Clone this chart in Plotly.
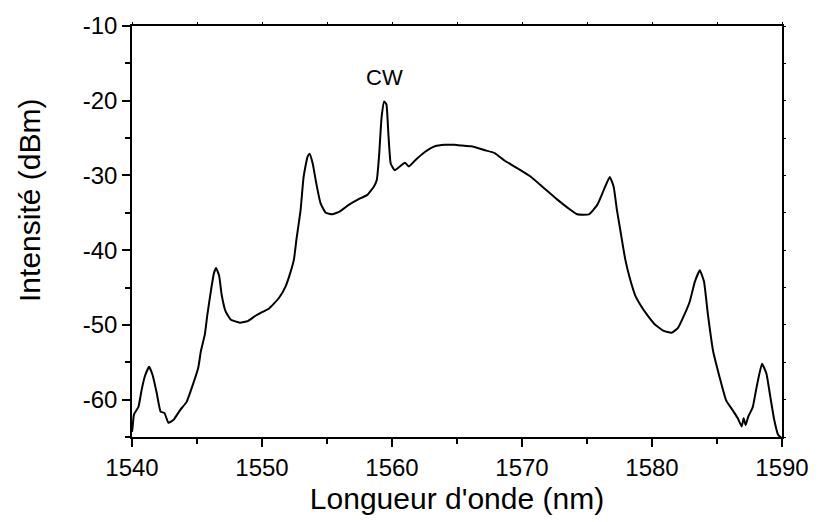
import plotly.graph_objects as go

# Optical spectrum (wavelength in nm, intensity in dBm)
wavelength = [
    1540.0, 1540.05, 1540.15, 1540.5, 1540.74, 1541.0, 1541.32, 1541.6, 1541.9,
    1542.2, 1542.5, 1542.8, 1543.2, 1543.7, 1544.2, 1544.7, 1545.1, 1545.3,
    1545.6, 1545.8, 1546.1, 1546.3, 1546.47, 1546.7, 1546.9, 1547.2, 1547.6,
    1548.3, 1548.9, 1549.4, 1550.0, 1550.55, 1551.3, 1551.8, 1552.2, 1552.46,
    1552.64, 1552.97, 1553.2, 1553.5, 1553.66, 1553.9, 1554.17, 1554.5, 1554.9,
    1555.4, 1556.0, 1556.7, 1557.4, 1558.1, 1558.6, 1558.83, 1559.0, 1559.2,
    1559.4, 1559.57, 1559.72, 1559.9, 1560.2, 1560.6, 1561.0, 1561.3, 1561.77,
    1562.5, 1563.3, 1564.06, 1564.8, 1565.4, 1566.1, 1567.1, 1567.9, 1568.65,
    1569.7, 1570.7, 1571.7, 1572.7, 1573.5, 1574.25, 1575.15, 1575.8, 1576.3,
    1576.75, 1577.05, 1577.3, 1577.56, 1577.94, 1578.3, 1578.7, 1579.1, 1579.6,
    1580.2, 1580.9, 1581.5, 1582.0, 1582.5, 1582.9, 1583.3, 1583.68, 1584.0,
    1584.3, 1584.7, 1585.2, 1585.7, 1586.2, 1586.6, 1586.9, 1587.05, 1587.2,
    1587.4, 1587.75, 1588.05, 1588.46, 1588.8, 1589.1, 1589.4, 1589.7, 1589.95,
]
intensity = [
    -64.3, -63.6, -62.0, -60.95, -58.7, -56.8, -55.6, -56.8, -59.1,
    -61.6, -61.8, -63.1, -62.7, -61.4, -60.3, -57.9, -55.7, -53.5,
    -51.3, -48.6, -45.1, -43.1, -42.4, -43.4, -46.0, -48.2, -49.3,
    -49.7, -49.5, -48.9, -48.3, -47.8, -46.4, -44.9, -42.9, -41.2,
    -38.7, -34.6, -30.2, -27.5, -27.1, -28.4, -31.0, -33.7, -35.0,
    -35.2, -34.8, -33.9, -33.2, -32.6, -31.5, -30.6, -27.5, -22.2,
    -20.1, -20.5, -24.4, -28.4, -29.3, -28.8, -28.3, -28.8, -28.0,
    -26.9, -26.1, -25.9, -25.9, -26.0, -26.1, -26.6, -27.0, -28.0,
    -29.1, -30.2, -31.7, -33.2, -34.3, -35.2, -35.2, -33.9, -31.9,
    -30.2, -31.5, -34.6, -37.3, -41.2, -43.8, -46.0, -47.3, -48.6,
    -49.9, -50.8, -51.05, -50.4, -48.6, -46.9, -44.2, -42.7, -44.2,
    -48.6, -53.5, -57.0, -60.1, -61.4, -62.5, -63.6, -62.5, -63.4,
    -62.3, -61.0, -58.3, -55.2, -56.5, -59.6, -62.7, -64.7, -65.1,
]

x_ticks = [1540, 1550, 1560, 1570, 1580, 1590]
y_ticks = [-10, -20, -30, -40, -50, -60]
y_tick_text = ["-10", "-20", "-30", "-40", "-50", "-60"]
x_range = [1540, 1590]
y_range = [-65, -10]

cw_label = "CW"
cw_pos = (1559.4, -16.9)

font_family = "Liberation Sans, Arial, sans-serif"

fig = go.Figure()
fig.add_trace(go.Scatter(
    x=wavelength, y=intensity, mode="lines",
    line=dict(color="black", width=2, shape="spline", smoothing=0.4),
    showlegend=False,
))
# empty trace that anchors the small frame ticks on the top and right sides
fig.add_trace(go.Scatter(
    x=[None], y=[None], xaxis="x2", yaxis="y2",
    mode="lines", showlegend=False, hoverinfo="skip",
))

fig.add_annotation(
    x=cw_pos[0], y=cw_pos[1], text=cw_label, showarrow=False,
    font=dict(family=font_family, size=22, color="black"),
)

# vertical axis title, placed as free text to the left of the tick labels
fig.add_annotation(
    xref="paper", yref="paper", x=-0.158, y=0.575,
    text="Intensité (dBm)", textangle=-90, showarrow=False,
    xanchor="center", yanchor="middle",
    font=dict(family=font_family, size=30, color="black"),
)

axis_common = dict(
    showgrid=False, zeroline=False,
    showline=True, linecolor="black", linewidth=1.5, mirror=True,
    ticks="outside", ticklen=8, tickwidth=1.5, tickcolor="black",
    tickfont=dict(family=font_family, size=24, color="black"),
)

frame_ticks = dict(
    showgrid=False, zeroline=False, showline=False,
    ticks="outside", ticklen=3, tickwidth=1.2, tickcolor="black",
    showticklabels=False, dtick=5,
)

fig.update_layout(
    width=821, height=522,
    margin=dict(l=132, r=35, t=20, b=85),
    paper_bgcolor="white", plot_bgcolor="white",
    xaxis=dict(
        range=x_range, tickvals=x_ticks,
        minor=dict(ticks="outside", ticklen=5, tickwidth=1.5,
                   tickcolor="black", dtick=5, tick0=1540),
        title=dict(text="Longueur d'onde (nm)", standoff=8,
                   font=dict(family=font_family, size=30, color="black")),
        **axis_common,
    ),
    yaxis=dict(
        range=y_range, tickvals=y_ticks, ticktext=y_tick_text,
        minor=dict(ticks="outside", ticklen=5, tickwidth=1.5,
                   tickcolor="black", dtick=5, tick0=-10),
        **axis_common,
    ),
    xaxis2=dict(overlaying="x", side="top", range=x_range, tick0=1540,
                **frame_ticks),
    yaxis2=dict(overlaying="y", side="right", range=y_range, tick0=-10,
                **frame_ticks),
)

fig.write_html("out.html")
